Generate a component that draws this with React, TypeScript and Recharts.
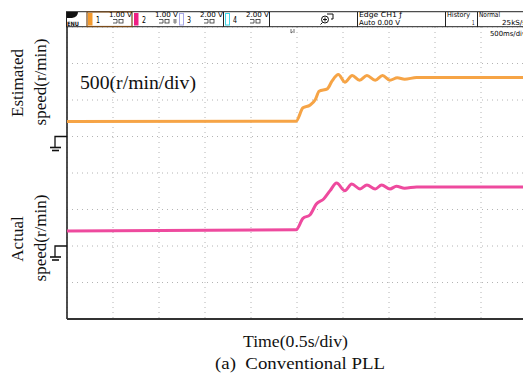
import { LineChart, Line, XAxis, YAxis, CartesianGrid, ReferenceLine, ReferenceDot } from "recharts"

// time in s, speed in r/min
const estTime = [0, 2.49, 2.565, 2.64, 2.7, 2.74, 2.83, 2.88, 2.95, 3.02, 3.1, 3.18, 3.26, 3.35, 3.43, 3.51, 3.59, 3.67, 3.8, 5]
const estSpeed = [205, 210, 393, 429, 507, 620, 653, 758, 849, 744, 836, 771, 836, 771, 836, 771, 804, 785, 808, 808]

const actTime = [0, 2.49, 2.565, 2.64, 2.71, 2.79, 2.86, 2.93, 3.02, 3.095, 3.185, 3.26, 3.35, 3.42, 3.51, 3.58, 3.67, 3.8, 5]
const actSpeed = [205, 223, 379, 425, 575, 644, 758, 863, 758, 849, 781, 836, 781, 836, 781, 818, 792, 808, 808]

const xTicks = [0, 0.5, 1, 1.5, 2, 2.5, 3, 3.5, 4, 4.5, 5]
const yTicks = [0, 1, 2, 3, 4, 5, 6, 7, 8]

const SPEED_PER_DIV = 500
const EST_ZERO = 5 // ground marker of ch1, in divisions from bottom
const ACT_ZERO = 2

const estData = estTime.map((t, i) => ({ t, v: EST_ZERO + estSpeed[i] / SPEED_PER_DIV }))
const actData = actTime.map((t, i) => ({ t, v: ACT_ZERO + actSpeed[i] / SPEED_PER_DIV }))

const serif = "'Liberation Serif', 'Times New Roman', serif"
const tiny = "'DejaVu Sans Condensed', 'DejaVu Sans', sans-serif"

function GroundMark(props: any) {
  const { cx, cy } = props
  return (
    <g stroke="#111" strokeWidth={1.3} fill="none">
      <path d={`M${cx} ${cy} H${cx - 12} V${cy + 11}`} />
      <path d={`M${cx - 17} ${cy + 11} H${cx - 6}`} strokeWidth={1.6} />
      <path d={`M${cx - 15} ${cy + 14} H${cx - 8}`} strokeWidth={1.6} />
    </g>
  )
}

function T({ x, y, w, s, size = 7, anchor = "start" }: any) {
  return (
    <text x={x} y={y} fontSize={size} fontFamily={tiny} fill="#000" textAnchor={anchor}
      textLength={w} lengthAdjust="spacingAndGlyphs" dominantBaseline="central">
      {s}
    </text>
  )
}

function ChanBox({ x, color, outline, n, volts }: any) {
  return (
    <g>
      {outline ? (
        <rect x={x + 1.5} y={13.5} width={4} height={11.5} fill="#fff" stroke={color} strokeWidth={1} />
      ) : (
        <rect x={x + 1} y={13} width={4.5} height={12.5} fill={color} />
      )}
      <T x={x + 9} y={19} w={4} s={n} size={9.5} />
      <T x={x + 22} y={15.2} w={23} s={volts} />
      <g stroke="#333" strokeWidth={0.8} fill="none">
        <path d={`M${x + 26} ${19.5} H${x + 30} V${23} H${x + 26}`} />
        <rect x={x + 32} y={19.5} width={4} height={3.5} />
      </g>
    </g>
  )
}

function Header() {
  return (
    <svg width={523} height={378} style={{ position: "absolute", left: 0, top: 0, pointerEvents: "none" }}>
      {/* scope status bar */}
      <rect x={66.5} y={11.7} width={470} height={15} fill="#fff" stroke="#222" strokeWidth={1} />
      <path d="M67 12 H78 Q78 17 72 18 H67 Z" fill="#111" />
      <text x={67} y={23} fontSize={6} fontWeight="bold" fontFamily={tiny} fill="#111" textLength={12} lengthAdjust="spacingAndGlyphs" dominantBaseline="central">ENU</text>
      <rect x={87} y={12} width={45} height={14.5} fill="#fff" stroke="#7a4a18" strokeWidth={1.2} />
      <ChanBox x={87} color="#F39A2E" n="1" volts="1.00 V" />
      <ChanBox x={133} color="#EE1E84" n="2" volts="1.00 V" />
      <path d="M173 20 h4 M173 22 h4 M175 19 v5" stroke="#333" strokeWidth={0.6} />
      <ChanBox x={178} color="#A8A8E8" outline n="3" volts="2.00 V" />
      <line x1={223.5} y1={12} x2={223.5} y2={27} stroke="#222" />
      <ChanBox x={224} color="#40D8E8" outline n="4" volts="2.00 V" />
      <line x1={269.5} y1={12} x2={269.5} y2={27} stroke="#222" />
      {/* zoom icon */}
      <g stroke="#111" strokeWidth={1} fill="none">
        <circle cx={325} cy={19.5} r={3.5} />
        <path d="M323 19.5 h4 M325 17.5 v4 M322.5 22.5 l-2 2" />
        <path d="M327 14 h6 v5 h-2" />
      </g>
      <line x1={357.5} y1={12} x2={357.5} y2={27} stroke="#222" />
      <T x={359} y={15.2} w={43} s="Edge CH1 ƒ" />
      <T x={359} y={22.5} w={41} s="Auto 0.00 V" />
      <line x1={445.5} y1={12} x2={445.5} y2={27} stroke="#222" />
      <T x={447} y={15.2} w={23} s="History" />
      <T x={472} y={22.5} w={2.5} s="1" />
      <line x1={477.5} y1={12} x2={477.5} y2={27} stroke="#222" />
      <T x={479} y={15.2} w={21} s="Normal" />
      <T x={502} y={23} w={24} s="25kS/s" />
      <T x={490} y={34} w={36} s="500ms/div" />
      <path d="M291 29 v4 M291 33 l2 -1.5 M294 29 v4" stroke="#333" strokeWidth={0.7} fill="none" />

      {/* captions */}
      <text x={80} y={83} fontSize={18} fontFamily={serif} fill="#111" dominantBaseline="central" textLength={116} lengthAdjust="spacingAndGlyphs">500(r/min/div)</text>
      <text transform="translate(17,83) rotate(-90)" fontSize={17} fontFamily={serif} fill="#111" textAnchor="middle" dominantBaseline="central">Estimated</text>
      <text transform="translate(40,82) rotate(-90)" fontSize={17} fontFamily={serif} fill="#111" textAnchor="middle" dominantBaseline="central">speed(r/min)</text>
      <text transform="translate(17,239) rotate(-90)" fontSize={17} fontFamily={serif} fill="#111" textAnchor="middle" dominantBaseline="central">Actual</text>
      <text transform="translate(40,238) rotate(-90)" fontSize={17} fontFamily={serif} fill="#111" textAnchor="middle" dominantBaseline="central">speed(r/min)</text>
      <text x={243} y={341} fontSize={17} fontFamily={serif} fill="#111" dominantBaseline="central" textLength={105} lengthAdjust="spacingAndGlyphs">Time(0.5s/div)</text>
      <text x={215} y={363} fontSize={17} fontFamily={serif} fill="#111" dominantBaseline="central" textLength={170} lengthAdjust="spacingAndGlyphs" xmlSpace="preserve">(a)  Conventional PLL</text>
    </svg>
  )
}

export default function App() {
  return (
    <div style={{ position: "absolute", left: 0, top: 0, width: 523, height: 378, overflow: "hidden", background: "#fff" }}>
      <LineChart width={527} height={378} margin={{ top: 27, right: 0, bottom: 59, left: 67 }}>
        <XAxis type="number" dataKey="t" domain={[0, 5]} ticks={xTicks} hide />
        <YAxis type="number" domain={[0, 8]} ticks={yTicks} hide />
        <CartesianGrid stroke="#b4b4b4" strokeDasharray="1 4" />
        <ReferenceLine x={0} stroke="#222" strokeWidth={1.6} />
        <ReferenceLine y={0} stroke="#333" strokeWidth={2} />
        <Line data={estData} dataKey="v" type="monotone" stroke="#F6A446" strokeWidth={3} dot={false} isAnimationActive={false} />
        <Line data={actData} dataKey="v" type="monotone" stroke="#EE4A9E" strokeWidth={3} dot={false} isAnimationActive={false} />
        <ReferenceDot x={0} y={EST_ZERO} r={0} ifOverflow="visible" shape={GroundMark} />
        <ReferenceDot x={0} y={ACT_ZERO} r={0} ifOverflow="visible" shape={GroundMark} />
      </LineChart>
      <Header />
    </div>
  )
}
